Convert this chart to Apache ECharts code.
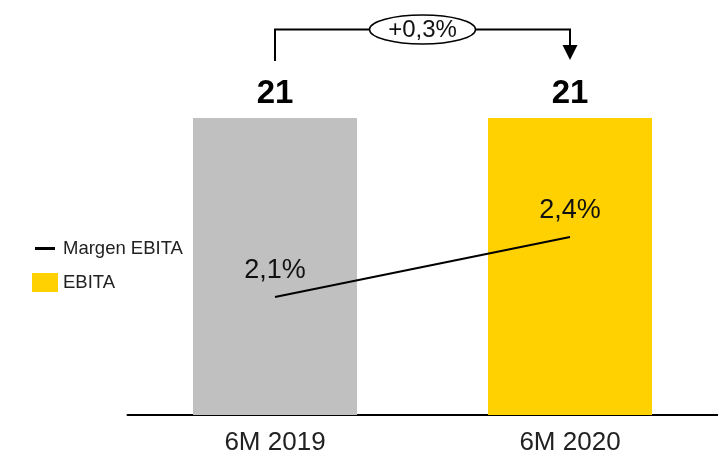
<!DOCTYPE html>
<html><head><meta charset="utf-8">
<script src="https://cdn.jsdelivr.net/npm/echarts@6/dist/echarts.min.js"></script>
<style>html,body{margin:0;padding:0;background:#fff}#c{width:718px;height:456px}</style>
</head><body><div id="c"></div>
<script>
const categories = ['6M 2019', '6M 2020'];
const ebita = [21, 21];
const margenEbita = [2.1, 2.4];
const seriesNames = ['EBITA', 'Margen EBITA'];
const barColors = ['#C0C0C0', '#FFD100'];

const FONT = 'Liberation Sans, Arial, sans-serif';
const fmtPct = v => v.toFixed(1).replace('.', ',') + '%';
const delta = margenEbita[1] - margenEbita[0];
const deltaLabel = (delta >= 0 ? '+' : '') + fmtPct(delta);

const chart = echarts.init(document.getElementById('c'));
chart.setOption({
  animation: false,
  backgroundColor: '#fff',
  textStyle: { fontFamily: FONT },
  grid: { left: 127.5, right: 0.5, top: 118, bottom: 41 },
  legend: [
    { data: [{ name: seriesNames[1], icon: 'rect' }], orient: 'vertical', left: 30, top: 234,
      itemWidth: 20, itemHeight: 3, itemGap: 10, textStyle: { fontSize: 18.5, color: '#222', fontFamily: FONT, padding: [0,0,0,3] }, selectedMode: false },
    { data: [{ name: seriesNames[0], icon: 'rect' }], orient: 'vertical', left: 27, top: 268,
      itemWidth: 26, itemHeight: 19, itemGap: 10, textStyle: { fontSize: 18.5, color: '#222', fontFamily: FONT }, selectedMode: false }
  ],
  xAxis: {
    type: 'category', data: categories,
    axisLine: { lineStyle: { color: '#000', width: 2 } },
    axisTick: { show: false },
    axisLabel: { fontSize: 26, color: '#222', margin: 15, fontFamily: FONT }
  },
  yAxis: [
    { type: 'value', min: 0, max: 21, show: false },
    { type: 'value', min: 1.51, max: 2.995, show: false }
  ],
  series: [
    {
      name: seriesNames[0], type: 'bar', barWidth: 164,
      itemStyle: { color: barColors[1] },
      data: ebita.map((v, i) => ({ value: v, itemStyle: { color: barColors[i] } })),
      label: { show: true, position: 'top', distance: 8, fontSize: 33, fontWeight: 'bold', color: '#000', fontFamily: FONT }
    },
    {
      name: seriesNames[1], type: 'line', yAxisIndex: 1,
      data: margenEbita, symbol: 'circle', symbolSize: 0, showSymbol: true,
      itemStyle: { color: '#000' },
      lineStyle: { color: '#000', width: 2 },
      label: { show: true, position: 'top', distance: 13, fontSize: 27, color: '#111', fontFamily: FONT,
               formatter: p => fmtPct(p.value) }
    },
    {
      name: 'annot', type: 'custom', clip: false, silent: true,
      data: [[0, 1]],
      renderItem: (params, api) => {
        const x0 = api.coord([api.value(0), 0])[0];
        const x1 = api.coord([api.value(1), 0])[0];
        const yTop = 29.5, yL = 61, yArrow = 45, yTip = 60;
        const xm = (x0 + x1) / 2;
        return {
          type: 'group',
          children: [
            { type: 'polyline', shape: { points: [[x0, yL], [x0, yTop], [x1, yTop], [x1, yArrow]] },
              style: { stroke: '#000', lineWidth: 2, fill: null } },
            { type: 'polygon', shape: { points: [[x1 - 7.5, yArrow], [x1 + 7.5, yArrow], [x1, yTip]] },
              style: { fill: '#000' } },
            { type: 'ellipse', shape: { cx: xm, cy: yTop, rx: 53, ry: 14.5 },
              style: { fill: '#fff', stroke: '#000', lineWidth: 1.5 } },
            { type: 'text', x: xm, y: yTop + 1,
              style: { text: deltaLabel, fontSize: 24, fontFamily: FONT, fill: '#111', align: 'center', verticalAlign: 'middle' } }
          ]
        };
      }
    }
  ]
});
</script></body></html>
